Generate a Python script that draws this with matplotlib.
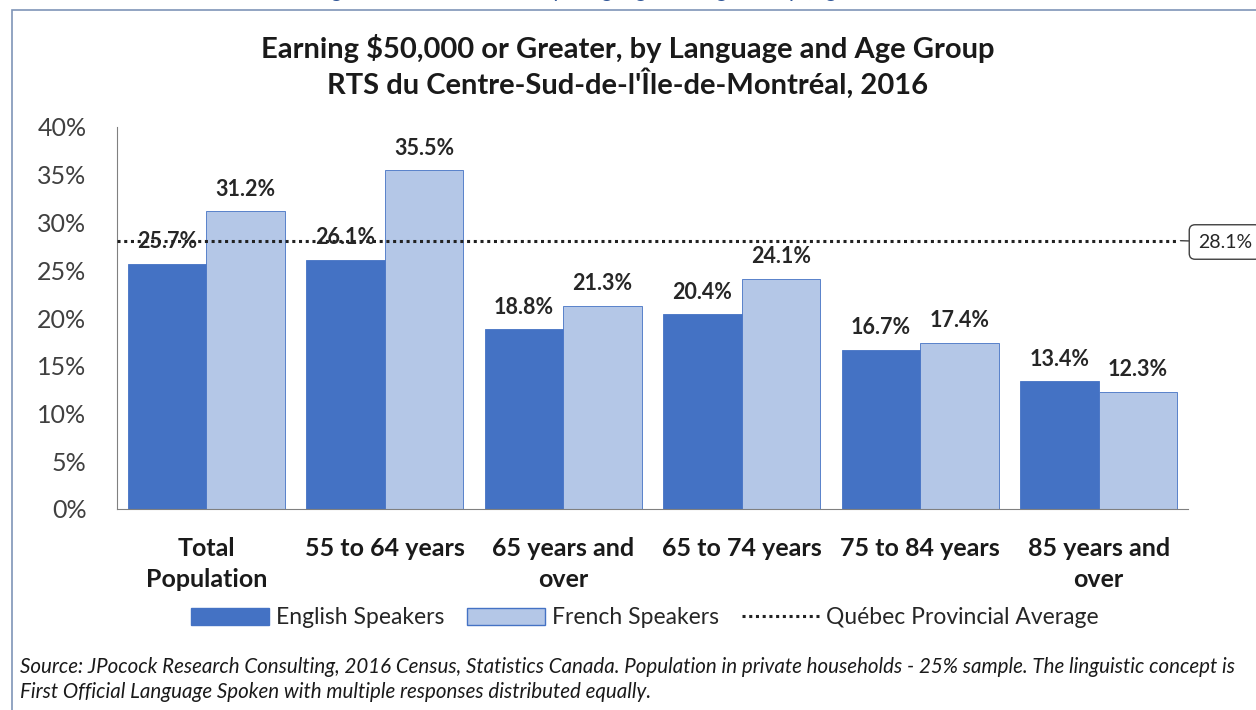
import matplotlib.pyplot as plt
import numpy as np
from matplotlib.patches import Rectangle, Patch
from matplotlib.lines import Line2D

categories = ["Total\nPopulation", "55 to 64 years", "65 years and\nover",
              "65 to 74 years", "75 to 84 years", "85 years and\nover"]
english = [25.7, 26.1, 18.8, 20.4, 16.7, 13.4]
french = [31.2, 35.5, 21.3, 24.1, 17.4, 12.3]
quebec_avg = 28.1

plt.rcParams['font.family'] = ['Lato', 'DejaVu Sans']

blue = '#4472C4'
light = '#B4C7E7'

fig = plt.figure(figsize=(12.56, 7.10), dpi=100)
fig.patch.set_facecolor('white')

# frame around the chart (runs off right/bottom edge like the screenshot)
fig.patches.append(Rectangle((12 / 1256, -0.05), 1.2, (710 - 10) / 710 + 0.05,
                             transform=fig.transFigure, fill=False,
                             edgecolor='#7f95b8', linewidth=1.2))
# clipped heading above the frame
fig.text(0.5, 1.014, "Earning $50,000 or Greater, by Language and Age Group (Aged 55 and over)",
         ha='center', va='center', fontsize=16, style='italic', color='#2f5597')

ax = fig.add_axes([117 / 1256, 201 / 710, 1071 / 1256, 382 / 710])
x = np.arange(len(categories))
w = 0.44
b1 = ax.bar(x - w / 2, english, w, color=blue, edgecolor=blue, linewidth=0.6)
b2 = ax.bar(x + w / 2, french, w, color=light, edgecolor=blue, linewidth=0.6)

ax.plot([-0.5, 5.45], [quebec_avg, quebec_avg], linestyle=(0, (1, 1.2)),
        color='#222222', linewidth=2.2, clip_on=False, zorder=3)

for bars, vals in ((b1, english), (b2, french)):
    for r, v in zip(bars, vals):
        ax.text(r.get_x() + r.get_width() / 2, v + 1.2, f"{v}%", ha='center',
                va='bottom', fontsize=15.5, fontweight='bold', color='#262626', zorder=4)

ax.annotate(f"{quebec_avg}%", xy=(5.45, quebec_avg), xytext=(1198, 468),
            textcoords='figure pixels', xycoords='data', ha='left', va='center',
            fontsize=14, color='#262626', annotation_clip=False,
            bbox=dict(boxstyle='round,pad=0.45,rounding_size=0.3', fc='white', ec='#404040', lw=1),
            arrowprops=dict(arrowstyle='-', color='#404040', lw=1, shrinkA=0, shrinkB=1))

ax.set_xlim(-0.5, 5.5)
ax.set_ylim(0, 40)
ax.set_yticks(range(0, 41, 5))
ax.set_yticklabels([f"{t}%" for t in range(0, 41, 5)], fontsize=18, color='#404040')
ax.set_xticks(x)
ax.set_xticklabels(categories, fontsize=18, fontweight='bold', color='#1a1a1a',
                   linespacing=1.45)
ax.tick_params(length=0, pad=22)
ax.tick_params(axis='x', pad=20)
for s in ('top', 'right'):
    ax.spines[s].set_visible(False)
ax.spines['left'].set_color('#808080')
ax.spines['bottom'].set_color('#808080')

fig.text(0.5, 0.932, "Earning $50,000 or Greater, by Language and Age Group",
         ha='center', va='center', fontsize=21, fontweight='bold', color='#1a1a1a')
fig.text(0.5, 0.883, "RTS du Centre-Sud-de-l'Île-de-Montréal, 2016",
         ha='center', va='center', fontsize=21, fontweight='bold', color='#1a1a1a')

handles = [Patch(facecolor=blue, edgecolor=blue),
           Patch(facecolor=light, edgecolor=blue),
           Line2D([0], [0], linestyle=(0, (1, 1.2)), color='#222222', lw=2.2)]
fig.legend(handles, ["English Speakers", "French Speakers", "Québec Provincial Average"],
           loc='center', bbox_to_anchor=(645 / 1256, 92 / 710), ncol=3, frameon=False,
           fontsize=16.5, handlelength=3.4, handleheight=0.7, columnspacing=1.0,
           handletextpad=0.3, labelcolor='#262626')

fig.text(20 / 1256, 43 / 710,
         "Source: JPocock Research Consulting, 2016 Census, Statistics Canada. Population in private "
         "households - 25% sample. The linguistic concept is",
         ha='left', va='center', fontsize=14.8, style='italic', color='#1a1a1a')
fig.text(20 / 1256, 18 / 710,
         "First Official Language Spoken with multiple responses distributed equally.",
         ha='left', va='center', fontsize=14.8, style='italic', color='#1a1a1a')

fig.savefig('out.png', dpi=100)
